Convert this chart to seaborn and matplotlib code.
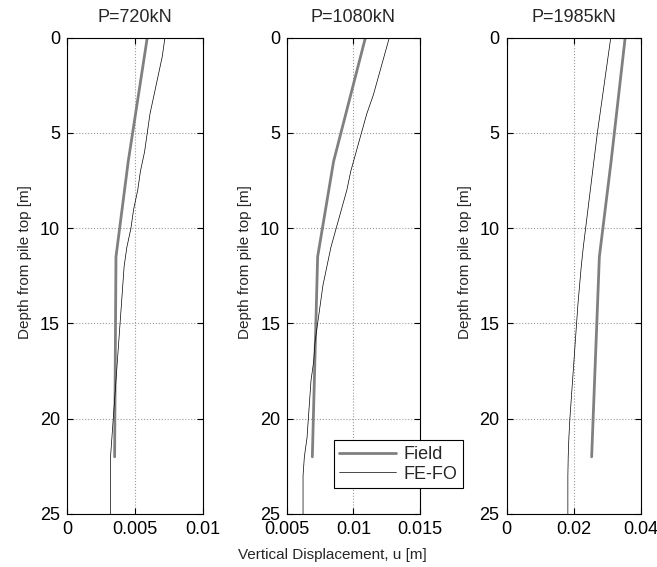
import matplotlib
matplotlib.use("Agg")
import matplotlib.pyplot as plt
import seaborn as sns
import pandas as pd

sns.set_theme(style="white")
plt.rcParams['font.family'] = ['Liberation Sans', 'DejaVu Sans']

titles = ["P=720kN", "P=1080kN", "P=1985kN"]

# Field measurements (depth [m], displacement [m])
field_depth = [0, 6.5, 11.5, 22]
field_u_720 = [0.0059, 0.0045, 0.0036, 0.0035]
field_u_1080 = [0.0109, 0.0085, 0.0073, 0.0069]
field_u_1985 = [0.0354, 0.0312, 0.0277, 0.0254]

# FE-FO results
fe_depth = [0, 1, 2, 3, 4, 5, 6, 7, 8, 9, 10, 11, 12, 13, 14, 15, 16, 17,
            18, 19, 20, 21, 22, 23, 24, 25]
fe_u_720 = [0.0072, 0.0070, 0.0067, 0.0064, 0.0061, 0.0059, 0.0057, 0.0054,
            0.0052, 0.0049, 0.0047, 0.0044, 0.0042, 0.0041, 0.0040, 0.0039,
            0.0038, 0.0037, 0.0036, 0.0035, 0.0034, 0.0033, 0.0032, 0.0032,
            0.0032, 0.0032]
fe_u_1080 = [0.0127, 0.0123, 0.0119, 0.0115, 0.0110, 0.0106, 0.0102, 0.0098,
             0.0095, 0.0091, 0.0087, 0.0083, 0.0080, 0.0077, 0.0075, 0.0073,
             0.0071, 0.0070, 0.0068, 0.0067, 0.0066, 0.0065, 0.0063, 0.0062,
             0.0062, 0.0062]
fe_u_1985 = [0.0311, 0.0303, 0.0295, 0.0287, 0.0279, 0.0271, 0.0264, 0.0257,
             0.0250, 0.0243, 0.0236, 0.0229, 0.0223, 0.0218, 0.0213, 0.0209,
             0.0205, 0.0201, 0.0197, 0.0193, 0.0189, 0.0186, 0.0184, 0.0183,
             0.0183, 0.0183]

xlims = [(0, 0.01), (0.005, 0.015), (0, 0.04)]
xticks = [[0, 0.005, 0.01], [0.005, 0.01, 0.015], [0, 0.02, 0.04]]
xticklabels = [["0", "0.005", "0.01"], ["0.005", "0.01", "0.015"], ["0", "0.02", "0.04"]]
yticks = [0, 5, 10, 15, 20, 25]

field_sets = [field_u_720, field_u_1080, field_u_1985]
fe_sets = [fe_u_720, fe_u_1080, fe_u_1985]

W, H = 657, 567
fig = plt.figure(figsize=(W / 100, H / 100), dpi=100)
lefts = [0.102, 0.437, 0.771]
widths = [0.207, 0.202, 0.204]
bottom, height = 0.0935, 0.840

fs_tick = 13
fs_title = 13
fs_label = 11
handles, labels = None, None
for i in range(3):
    ax = fig.add_axes([lefts[i], bottom, widths[i], height])
    df_f = pd.DataFrame({"u": field_sets[i], "depth": field_depth})
    df_e = pd.DataFrame({"u": fe_sets[i], "depth": fe_depth})
    sns.lineplot(data=df_f, x="u", y="depth", sort=False, estimator=None,
                 color="#808080", linewidth=2.0, ax=ax, label="Field", legend=False)
    sns.lineplot(data=df_e, x="u", y="depth", sort=False, estimator=None,
                 color="black", linewidth=0.5, ax=ax, label="FE-FO", legend=False)
    ax.set_xlim(*xlims[i])
    ax.set_ylim(25, 0)
    ax.set_xticks(xticks[i])
    ax.set_xticklabels(xticklabels[i], fontsize=fs_tick)
    ax.set_yticks(yticks)
    ax.set_yticklabels([str(t) for t in yticks], fontsize=fs_tick)
    ax.grid(True, color="#9a9a9a", linestyle=":", linewidth=0.8)
    ax.tick_params(direction="in", length=4, width=0.8, top=True, right=True,
                   bottom=True, left=True, colors="black", pad=5)
    for sp in ax.spines.values():
        sp.set_color("black")
        sp.set_linewidth(0.8)
    ax.set_title(titles[i], fontsize=fs_title, pad=11.5)
    ax.set_ylabel("Depth from pile top [m]", fontsize=fs_label)
    wpx = widths[i] * W
    ax.yaxis.set_label_coords(-35 / wpx, 0.529)
    ax.set_xlabel("")
    if i == 1:
        handles, labels = ax.get_legend_handles_labels()

fig.text(0.506, 1 - 559 / H, "Vertical Displacement, u [m]", ha="center",
         va="baseline", fontsize=fs_label)

leg = fig.legend(handles, labels, loc="lower left", bbox_to_anchor=(334 / W, 1 - 488 / H),
                 frameon=True, fancybox=False, edgecolor="black", framealpha=1,
                 fontsize=13, handlelength=3.15, handletextpad=0.4,
                 borderpad=0.3, labelspacing=0.15, borderaxespad=0)
leg.get_frame().set_linewidth(0.8)

fig.savefig("out.png", dpi=100)
